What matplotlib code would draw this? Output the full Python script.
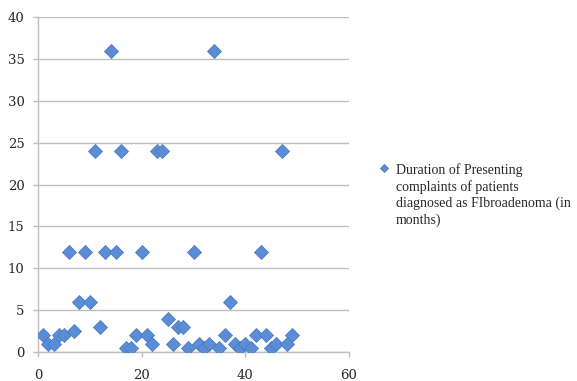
import matplotlib
matplotlib.use("Agg")
import matplotlib.pyplot as plt

# Patient serial number and duration of presenting complaints (months)
patient_no = list(range(1, 50))
duration_months = [2, 1, 1, 2, 2, 12, 2.5, 6, 12, 6,
                   24, 3, 12, 36, 12, 24, 0.5, 0.5, 2, 12,
                   2, 1, 24, 24, 4, 1, 3, 3, 0.5, 12,
                   1, 0.5, 1, 36, 0.5, 2, 6, 1, 0.5, 1,
                   0.5, 2, 12, 2, 0.5, 1, 24, 1, 2]
series_label = ("Duration of Presenting\ncomplaints of patients\n"
                "diagnosed as FIbroadenoma (in\nmonths)")
x_ticks = [0, 20, 40, 60]
y_ticks = [0, 5, 10, 15, 20, 25, 30, 35, 40]

W, H = 577, 381
fig = plt.figure(figsize=(W / 100, H / 100), dpi=100)
ax = fig.add_axes([38 / W, 1 - 352 / H, (349 - 38) / W, (352 - 17) / H])

tick_font = "DejaVu Serif"
legend_font = "Liberation Serif"
text_color = "#262626"
grid_color = "#BEBEBE"

ax.plot(patient_no, duration_months, linestyle="none", marker="D",
        markersize=7.0, markerfacecolor="#5B8DD6", markeredgecolor="#4A7CC4",
        markeredgewidth=0.6, label=series_label, zorder=3)

ax.set_xlim(0, 60)
ax.set_ylim(0, 40)
ax.set_xticks(x_ticks)
ax.set_yticks(y_ticks)
ax.yaxis.grid(True, color=grid_color, linewidth=1.0)
ax.set_axisbelow(True)

for side in ("top", "right"):
    ax.spines[side].set_visible(False)
for side in ("left", "bottom"):
    ax.spines[side].set_color(grid_color)
    ax.spines[side].set_linewidth(1.0)

ax.tick_params(axis="both", direction="out", length=3.8, width=1.0,
               color=grid_color, labelcolor=text_color)
ax.tick_params(axis="x", pad=8.5)
ax.tick_params(axis="y", pad=6.0)
for lbl in ax.get_xticklabels() + ax.get_yticklabels():
    lbl.set_fontfamily(tick_font)
    lbl.set_fontsize(9.5)

leg = fig.legend(loc="upper left", bbox_to_anchor=(373 / W, 1 - 156 / H),
                 frameon=False, handlelength=0.55, handletextpad=0.6,
                 borderpad=0, markerscale=0.65,
                 prop={"family": legend_font, "size": 10})
for txt in leg.get_texts():
    txt.set_color(text_color)
    txt.set_linespacing(1.3)
# keep the legend marker level with the first line of the label
for column in leg._legend_handle_box.get_children():
    for item in column.get_children():
        item.align = "top"

fig.savefig("out.png", dpi=100)
